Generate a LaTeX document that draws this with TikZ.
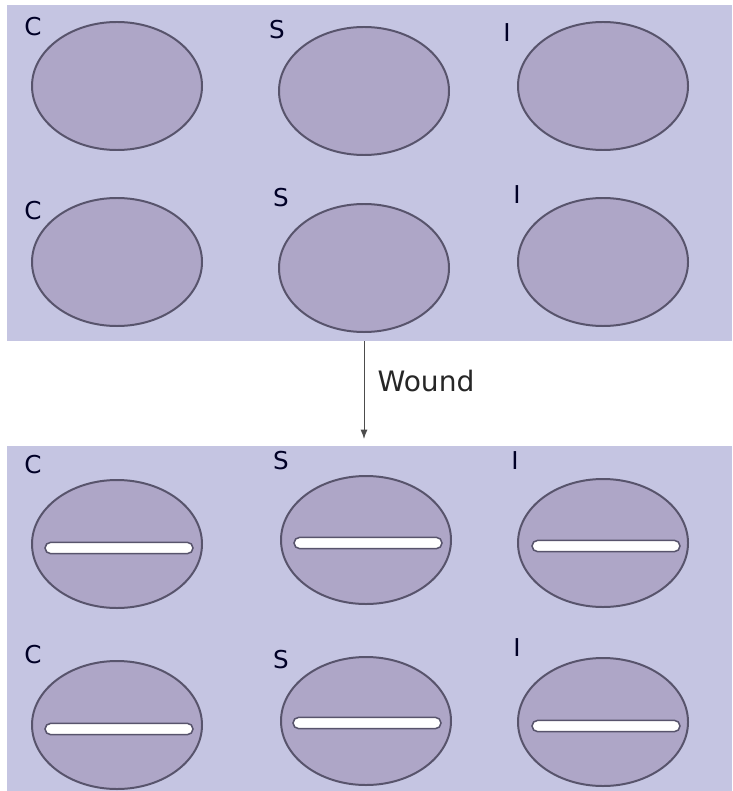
\documentclass[tikz,border=0pt]{standalone}
\usepackage{fontspec}
\setmainfont{DejaVu Sans}
\usetikzlibrary{shapes.geometric, arrows.meta}
\definecolor{panelblue}{RGB}{197,197,226}
\definecolor{wellfill}{RGB}{174,166,199}
\definecolor{welledge}{RGB}{88,84,108}
\tikzset{
  panel/.style={fill=panelblue, draw=none},
  well/.style={ellipse, draw=welledge, line width=1.7pt, fill=wellfill, minimum width=5.1cm, minimum height=3.84cm, inner sep=0pt},
  slit/.style={rectangle, rounded corners=0.17cm, draw=welledge, line width=1.3pt, fill=white, minimum width=4.44cm, minimum height=0.34cm, inner sep=0pt},
  tag/.style={font=\fontsize{21}{21}\selectfont, text=black!85!blue, inner sep=0pt},
}
\begin{document}
\begin{tikzpicture}[x=0.03cm, y=-0.03cm, >={Latex[length=8pt,width=6pt]}]
    \useasboundingbox (0,0) rectangle (732,791);
    % plates
    \path[panel] (7,5) rectangle (732,341);
    \path[panel] (7,446) rectangle (732,791);

    % before
    \node[well] (c1) at (117,86) {};
    \node[well] (s1) at (364,91) {};
    \node[well] (i1) at (603,86) {};
    \node[well] (c2) at (117,262) {};
    \node[well] (s2) at (364,268) {};
    \node[well] (i2) at (603,262) {};
    \node[tag] (c1tag) at (33,27) {C};
    \node[tag] (s1tag) at (277,30) {S};
    \node[tag] (i1tag) at (507,33) {I};
    \node[tag] (c2tag) at (33,211) {C};
    \node[tag] (s2tag) at (281,198) {S};
    \node[tag] (i2tag) at (517,195) {I};

    % after
    \node[well] (c3) at (117,544) {};
    \node[well] (s3) at (366,540) {};
    \node[well] (i3) at (603,543) {};
    \node[well] (c4) at (117,725) {};
    \node[well] (s4) at (366,721) {};
    \node[well] (i4) at (603,722) {};
    \node[slit] (c3cut) at (119,548) {};
    \node[slit] (s3cut) at (368,543) {};
    \node[slit] (i3cut) at (606,546) {};
    \node[slit] (c4cut) at (119,729) {};
    \node[slit] (s4cut) at (367,723) {};
    \node[slit] (i4cut) at (606,726) {};
    \node[tag] (c3tag) at (33,465) {C};
    \node[tag] (s3tag) at (281,461) {S};
    \node[tag] (i3tag) at (515,461) {I};
    \node[tag] (c4tag) at (33,655) {C};
    \node[tag] (s4tag) at (281,660) {S};
    \node[tag] (i4tag) at (517,648) {I};

    \coordinate (woundstart) at (364,341);
    \coordinate (woundend) at (364,439);
    \draw[->, line width=0.8pt, black!70] (woundstart) -- (woundend);
    \node[font=\fontsize{24}{24}\selectfont, text=black!85, inner sep=0pt] (wound) at (426,381) {Wound};
\end{tikzpicture}
\end{document}
